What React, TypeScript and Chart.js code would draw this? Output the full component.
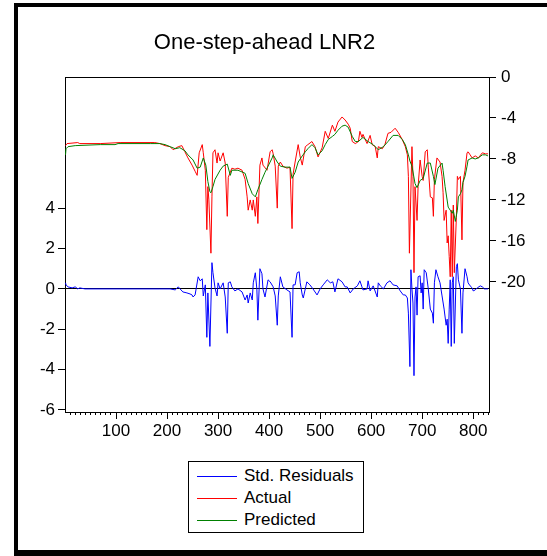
import React, { useEffect, useRef } from "react";
import { Chart, registerables } from "chart.js";

Chart.register(...registerables);

const TITLE = "One-step-ahead LNR2";
const LEGEND_LABELS = ["Std. Residuals", "Actual", "Predicted"];
const COLORS = ["#0000FF", "#FF0000", "#008000"];

const LEFT_TICKS = [-6, -4, -2, 0, 2, 4];
const RIGHT_TICKS = [-20, -16, -12, -8, -4, 0];
const X_MAJOR = [100, 200, 300, 400, 500, 600, 700, 800];
const X_MINOR_STEP = 10;
const X_MIN = 0;
const X_MAX = 831;
const LEFT_MIN = -6.1;
const LEFT_MAX = 10.5;
const RIGHT_MIN = -32.7;
const RIGHT_MAX = 0;

// [observation, value]
const RESIDUALS: [number, number][] = [
  [1,0.3],[2,0.2],[6,0.1],[14,0.05],[20,0.1],[25,0],[29,0.05],[39,0],[186,0],[206,0],[216,-0.05],[222,0.1],
  [231,-0.15],[239,-0.2],[245,-0.25],[249,-0.3],[251,-0.4],[255,-0.3],[261,0.6],[265,0.4],[269,0.5],[271,-0.35],
  [275,0.2],[278,-2.4],[280,-0.2],[284,-2.85],[288,1.3],[290,0.8],[294,0.05],[298,-0.35],[300,0.3],[304,0],
  [310,0.3],[314,-0.4],[318,-2.2],[320,0.3],[324,0.35],[327,0.1],[333,-0.1],[339,0],[347,-0.15],[353,-0.55],
  [357,-0.3],[359,-0.7],[363,-0.2],[367,-0.55],[369,0.3],[373,0.8],[376,0],[378,-1.55],[382,1.0],[386,0.75],
  [388,0],[392,-0.4],[398,0.45],[402,0.35],[408,0.1],[412,-0.35],[416,-1.8],[418,-0.35],[422,0.6],[427,0.1],
  [435,-0.05],[441,-0.15],[445,-2.4],[447,0.2],[451,0.2],[455,0.8],[459,0.85],[461,0.3],[465,-0.3],[467,-0.45],
  [474,0.35],[480,0.2],[486,0],[494,-0.3],[500,0],[506,0.2],[514,0.45],[520,0.3],[525,0.35],[529,-0.15],
  [535,0.5],[543,0.35],[549,0.1],[553,0.1],[559,-0.2],[565,0],[573,0.15],[578,0.4],[582,0.1],[584,-0.05],
  [592,0],[594,0.4],[598,-0.1],[604,0.15],[612,-0.4],[614,0.3],[618,0.15],[624,0],[631,0.3],[637,0.4],
  [643,0.2],[651,0.15],[657,-0.1],[663,-0.3],[667,-0.3],[671,-0.45],[673,-1.2],[676,-3.85],[678,0.95],[680,0],
  [682,-0.7],[684,-4.3],[686,-0.4],[688,0.1],[690,-1.3],[692,0.6],[696,0.65],[698,-0.2],[700,0.3],[702,-1.0],
  [704,0.95],[708,0.8],[712,0],[716,-1.0],[720,-1.2],[722,-1.7],[724,0.3],[727,0.95],[731,0.6],[735,0.3],
  [739,-0.35],[743,-1.0],[747,-1.8],[749,-1.5],[751,-2.7],[753,-1.0],[755,0.45],[757,-2.85],[759,0.3],[761,0.6],
  [763,-2.7],[767,1.1],[769,1.25],[771,0.45],[775,0],[778,-2.2],[780,-0.2],[784,1.0],[788,0.6],[790,0.3],
  [794,0.15],[798,0.05],[800,-0.1],[804,-0.05],[808,0.05],[814,0.15],[818,0.1],[822,0],[827,0],[829,0],
];

const ACTUAL: [number, number][] = [
  [1,-6.7],[4,-6.5],[25,-6.4],[29,-6.5],[69,-6.5],[108,-6.4],[147,-6.4],[176,-6.4],[186,-6.5],[196,-6.7],
  [206,-6.8],[212,-7.1],[222,-6.8],[229,-6.7],[235,-7.3],[241,-7.9],[249,-8.6],[255,-9.2],[259,-9.6],[263,-7.4],
  [269,-6.6],[271,-7.4],[275,-9.1],[278,-14.9],[280,-10.7],[282,-12],[286,-17.2],[288,-11.7],[290,-7.4],[294,-7.1],
  [298,-8.4],[300,-7.4],[304,-8.2],[310,-7.4],[314,-8.4],[318,-13.6],[320,-9.8],[327,-8.9],[333,-9.0],[339,-8.9],
  [347,-9.1],[349,-9.4],[353,-10],[357,-11.7],[359,-13],[363,-12],[367,-13],[369,-12],[373,-13.6],[376,-11.7],
  [378,-14.3],[382,-8.6],[386,-7.9],[388,-8.6],[396,-9.1],[402,-7.3],[406,-7.1],[408,-7.5],[412,-8.7],[416,-12.8],
  [418,-8.7],[422,-8.3],[427,-8.7],[435,-8.9],[441,-8.8],[445,-14.8],[447,-9.5],[451,-8.3],[457,-6.6],[461,-7.8],
  [465,-8.6],[471,-6.8],[476,-6.6],[484,-6.3],[490,-6.8],[496,-7.8],[504,-6.9],[510,-5.3],[516,-6.0],[524,-4.7],
  [529,-5.3],[535,-4.4],[543,-3.9],[549,-4.2],[555,-4.6],[559,-5.0],[563,-6.3],[569,-6.5],[575,-6.3],[578,-5.3],
  [582,-5.9],[584,-5.6],[592,-6.5],[598,-5.7],[602,-6.6],[608,-6.8],[612,-7.9],[614,-6.8],[622,-7.0],[627,-6.6],
  [633,-5.5],[639,-5.4],[647,-5.0],[653,-5.4],[661,-6.1],[667,-6.8],[671,-7.6],[673,-9.7],[675,-17.2],[680,-6.8],
  [682,-9.7],[684,-19.1],[686,-10.7],[690,-14],[692,-10.7],[696,-8.1],[700,-9.7],[702,-10.1],[706,-7.3],[710,-7.1],
  [712,-8.8],[716,-11.7],[720,-11.8],[722,-13.6],[724,-10],[729,-7.9],[735,-8.3],[739,-9.7],[741,-11.3],[743,-14],
  [747,-13],[749,-16.2],[751,-15.5],[753,-17.5],[755,-19.5],[757,-13],[759,-19.5],[761,-12.5],[763,-19.1],[767,-13.7],
  [769,-9.7],[771,-10],[775,-9.7],[778,-15.9],[780,-10.3],[784,-9.1],[788,-7.4],[790,-7.3],[794,-7.6],[798,-7.9],
  [804,-7.7],[810,-7.9],[818,-7.4],[824,-7.5],[829,-7.5],
];

const PREDICTED: [number, number][] = [
  [1,-7.6],[2,-7.0],[6,-6.8],[20,-6.7],[69,-6.6],[98,-6.6],[104,-6.5],[167,-6.5],[186,-6.5],[196,-6.6],
  [206,-6.8],[216,-7.0],[225,-6.9],[235,-7.2],[241,-7.6],[251,-8.1],[259,-8.9],[265,-8.8],[271,-7.9],[276,-8.6],
  [280,-10.2],[284,-11.2],[286,-11.3],[290,-10.7],[294,-10],[304,-9.1],[310,-8.7],[318,-8.5],[324,-9.6],[327,-9.1],
  [339,-9.1],[353,-9.4],[359,-10.4],[367,-11.4],[373,-11.7],[378,-11],[386,-10],[392,-9.3],[398,-8.7],[406,-7.9],
  [408,-7.6],[416,-8.3],[422,-8.7],[431,-8.8],[441,-8.8],[445,-9.9],[451,-9.3],[457,-8.3],[465,-7.7],[471,-7.3],
  [476,-7.0],[484,-6.6],[490,-6.9],[496,-7.6],[504,-7.2],[510,-6.6],[516,-6.1],[524,-5.8],[529,-5.6],[535,-5.2],
  [543,-4.8],[549,-4.7],[555,-4.9],[563,-5.8],[569,-6.3],[575,-6.3],[584,-5.9],[594,-6.3],[604,-6.6],[614,-7.1],
  [624,-6.8],[633,-6.3],[643,-5.7],[653,-5.7],[661,-6.1],[667,-6.6],[673,-7.6],[676,-8.2],[680,-8.7],[686,-10.4],
  [690,-10.8],[696,-10.1],[702,-9.9],[710,-8.4],[716,-8.4],[722,-9.7],[725,-10.5],[731,-8.9],[739,-8.4],[741,-9.1],
  [745,-10.7],[751,-12.7],[755,-13],[759,-13.3],[761,-13],[765,-14.1],[769,-13],[771,-11.7],[775,-11.4],[778,-11],
  [780,-10.3],[784,-9.7],[788,-8.7],[790,-8.1],[798,-7.9],[804,-8.0],[810,-7.9],[818,-7.6],[824,-7.6],[829,-7.7],
];

const FONT = '"Liberation Sans", Arial, sans-serif';

const toPoints = (arr: [number, number][]) => arr.map(([x, y]) => ({ x, y }));

const framePlugin = {
  id: "frameAndMajorTicks",
  afterDraw(chart: any) {
    const { ctx, chartArea } = chart;
    const xs = chart.scales.x;
    ctx.save();
    ctx.strokeStyle = "#000";
    ctx.lineWidth = 1;
    ctx.beginPath();
    ctx.moveTo(chartArea.left, Math.round(chartArea.top) + 0.5);
    ctx.lineTo(chartArea.right, Math.round(chartArea.top) + 0.5);
    for (const v of X_MAJOR) {
      const px = Math.round(xs.getPixelForValue(v)) + 0.5;
      ctx.moveTo(px, chartArea.bottom);
      ctx.lineTo(px, chartArea.bottom + 7);
    }
    ctx.stroke();
    ctx.restore();
  },
};

export default function App() {
  const ref = useRef<HTMLCanvasElement | null>(null);

  useEffect(() => {
    if (!ref.current) return;
    const tickFont = { family: FONT, size: 17 };
    const chart = new Chart(ref.current, {
      type: "line",
      data: {
        datasets: [
          {
            label: LEGEND_LABELS[0],
            data: toPoints(RESIDUALS),
            borderColor: COLORS[0],
            borderWidth: 1,
            pointRadius: 0,
            yAxisID: "yL",
            order: 2,
          },
          {
            label: LEGEND_LABELS[1],
            data: toPoints(ACTUAL),
            borderColor: COLORS[1],
            borderWidth: 1,
            pointRadius: 0,
            yAxisID: "yR",
            order: 1,
          },
          {
            label: LEGEND_LABELS[2],
            data: toPoints(PREDICTED),
            borderColor: COLORS[2],
            borderWidth: 1,
            pointRadius: 0,
            yAxisID: "yR",
            order: 0,
          },
        ],
      },
      options: {
        animation: false,
        responsive: false,
        events: [],
        layout: { padding: { top: 77, left: 0, right: 0, bottom: 114 } },
        plugins: { legend: { display: false }, title: { display: false }, tooltip: { enabled: false } },
        scales: {
          x: {
            type: "linear",
            min: X_MIN,
            max: X_MAX,
            afterBuildTicks: (s: any) => {
              const t = [];
              for (let v = X_MINOR_STEP; v <= X_MAX; v += X_MINOR_STEP) t.push({ value: v });
              s.ticks = t;
            },
            afterFit: (s: any) => {
              s.height = 30;
            },
            ticks: {
              autoSkip: false,
              maxRotation: 0,
              minRotation: 0,
              padding: 6,
              color: "#000",
              font: tickFont,
              callback: (v: any) => (X_MAJOR.includes(Number(v)) ? String(v) : ""),
            },
            grid: { drawOnChartArea: false, tickLength: 3, color: "#000", tickColor: "#000" },
            border: { display: true, color: "#000" },
          },
          yL: {
            type: "linear",
            position: "left",
            min: LEFT_MIN,
            max: LEFT_MAX,
            afterBuildTicks: (s: any) => {
              s.ticks = LEFT_TICKS.map((v) => ({ value: v }));
            },
            afterFit: (s: any) => {
              s.width = 65;
            },
            ticks: { padding: 3, color: "#000", font: tickFont, callback: (v: any) => String(v) },
            grid: {
              drawOnChartArea: true,
              tickLength: 7,
              tickColor: "#000",
              color: (c: any) => (c.tick && c.tick.value === 0 ? "#000" : "rgba(0,0,0,0)"),
            },
            border: { display: true, color: "#000" },
          },
          yR: {
            type: "linear",
            position: "right",
            min: RIGHT_MIN,
            max: RIGHT_MAX,
            afterBuildTicks: (s: any) => {
              s.ticks = RIGHT_TICKS.map((v) => ({ value: v }));
            },
            afterFit: (s: any) => {
              s.width = 58;
            },
            ticks: { padding: 5, color: "#000", font: tickFont, callback: (v: any) => String(v) },
            grid: { drawOnChartArea: false, tickLength: 7, tickColor: "#000", color: "#000" },
            border: { display: true, color: "#000" },
          },
        },
      },
      plugins: [framePlugin],
    } as any);
    return () => chart.destroy();
  }, []);

  return (
    <div
      style={{
        position: "absolute",
        left: 0,
        top: 0,
        width: 547,
        height: 556,
        overflow: "hidden",
        background: "#fff",
        fontFamily: FONT,
      }}
    >
      <canvas ref={ref} width={547} height={556} style={{ position: "absolute", left: 0, top: 0, width: 547, height: 556 }} />
      <div
        style={{
          position: "absolute",
          left: 0,
          top: 31,
          width: 529,
          textAlign: "center",
          fontSize: 22,
          lineHeight: "22px",
          color: "#000",
          whiteSpace: "nowrap",
        }}
      >
        {TITLE}
      </div>
      <div
        style={{
          position: "absolute",
          left: 188,
          top: 461,
          width: 176,
          height: 72,
          boxSizing: "border-box",
          border: "1px solid #000",
          background: "#fff",
        }}
      >
        {LEGEND_LABELS.map((lab, i) => (
          <div
            key={lab}
            style={{
              position: "absolute",
              left: 8,
              top: 3 + i * 22,
              height: 22,
              display: "flex",
              alignItems: "center",
              fontSize: 17,
              color: "#000",
              whiteSpace: "nowrap",
            }}
          >
            <span style={{ display: "inline-block", width: 40, height: 1, background: COLORS[i], marginRight: 7 }} />
            <span>{lab}</span>
          </div>
        ))}
      </div>
      <div
        style={{
          position: "absolute",
          left: 14,
          top: 3,
          width: 600,
          height: 553,
          boxSizing: "border-box",
          borderStyle: "solid",
          borderColor: "#000",
          borderWidth: "4px 4px 6px 4px",
          pointerEvents: "none",
        }}
      />
    </div>
  );
}
